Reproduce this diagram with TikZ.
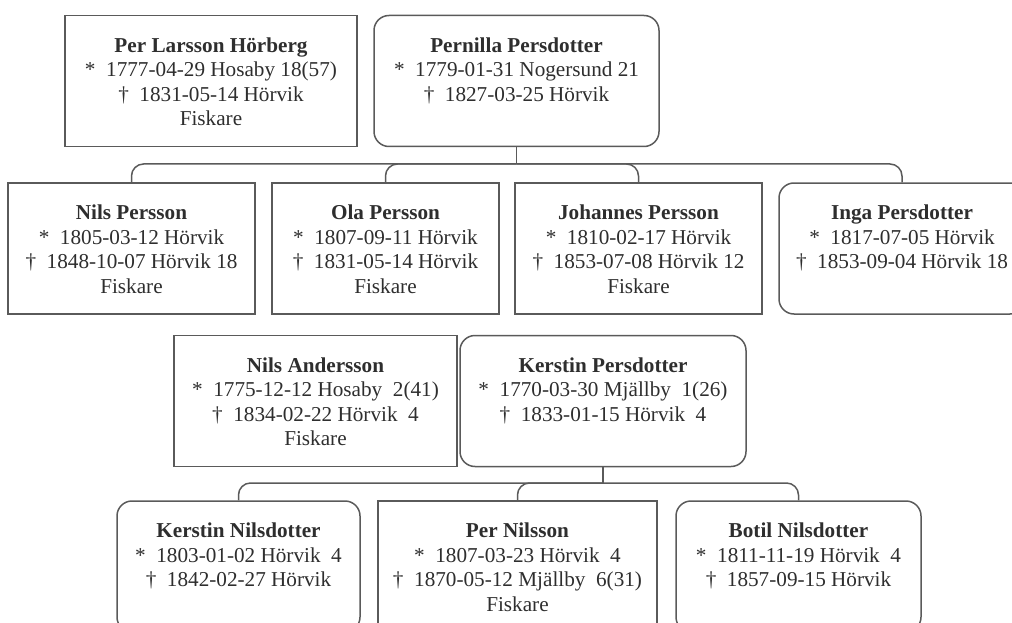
\documentclass[tikz,border=0pt]{standalone}
\usepackage{fontspec}
\setmainfont{Liberation Serif}
\definecolor{linjegra}{HTML}{5A5A5A}
\definecolor{textgra}{HTML}{2E2E2E}
\newcommand{\fodd}{*\ \ }
\newcommand{\dod}{†\ \ }
\newcommand{\persontext}[4]{\rule{0pt}{23pt}\textbf{#1}\\\strut#2\\\strut#3\\\strut#4}
\tikzset{
	person/.style={draw=linjegra,line width=1.5pt,text=textgra,inner sep=0pt,
		minimum height=131pt,align=center,font=\fontsize{21.2}{24.5}\selectfont},
	kvinna/.style={person,rounded corners=15pt},
	linje/.style={draw=linjegra,line width=1.5pt},
}
\begin{document}
\begin{tikzpicture}[x=1pt,y=-1pt]
	\clip (0,0) rectangle (1012,623);
	\useasboundingbox (0,0) rectangle (1012,623);
	% foraldrar 1
	\node[person,minimum width=292pt] (per) at (211,81) {\persontext{Per Larsson Hörberg}{\fodd 1777-04-29 Hosaby 18(57)}{\dod 1831-05-14 Hörvik}{Fiskare}};
	\node[kvinna,minimum width=285pt] (pernilla) at (516.5,81) {\persontext{Pernilla Persdotter}{\fodd 1779-01-31 Nogersund 21}{\dod 1827-03-25 Hörvik}{}};
	% barn 1
	\node[person,minimum width=247pt] (nils) at (131.5,248.5) {\persontext{Nils Persson}{\fodd 1805-03-12 Hörvik}{\dod 1848-10-07 Hörvik 18}{Fiskare}};
	\node[person,minimum width=227pt] (ola) at (385.5,248.5) {\persontext{Ola Persson}{\fodd 1807-09-11 Hörvik}{\dod 1831-05-14 Hörvik}{Fiskare}};
	\node[person,minimum width=247pt] (johannes) at (638.5,248.5) {\persontext{Johannes Persson}{\fodd 1810-02-17 Hörvik}{\dod 1853-07-08 Hörvik 12}{Fiskare}};
	\node[kvinna,minimum width=246pt] (inga) at (902,248.5) {\persontext{Inga Persdotter}{\fodd 1817-07-05 Hörvik}{\dod 1853-09-04 Hörvik 18}{}};
	% foraldrar 2
	\node[person,minimum width=283pt] (nilsA) at (315.5,401) {\persontext{Nils Andersson}{\fodd 1775-12-12 Hosaby\ \ 2(41)}{\dod 1834-02-22 Hörvik\ \ 4}{Fiskare}};
	\node[kvinna,minimum width=286pt] (kerstinP) at (603,401) {\persontext{Kerstin Persdotter}{\fodd 1770-03-30 Mjällby\ \ 1(26)}{\dod 1833-01-15 Hörvik\ \ 4}{}};
	% barn 2
	\node[kvinna,minimum width=243pt] (kerstinN) at (238.5,566.5) {\persontext{Kerstin Nilsdotter}{\fodd 1803-01-02 Hörvik\ \ 4}{\dod 1842-02-27 Hörvik}{}};
	\node[person,minimum width=279pt] (perN) at (517.5,566.5) {\persontext{Per Nilsson}{\fodd 1807-03-23 Hörvik\ \ 4}{\dod 1870-05-12 Mjällby\ \ 6(31)}{Fiskare}};
	\node[kvinna,minimum width=245pt] (botil) at (798.5,566.5) {\persontext{Botil Nilsdotter}{\fodd 1811-11-19 Hörvik\ \ 4}{\dod 1857-09-15 Hörvik}{}};
	% linjer
	\coordinate (fam1) at (pernilla.south |- 0,164);
	\coordinate (fam2) at (kerstinP.south |- 0,483);
	\draw[linje] (pernilla.south) -- (fam1);
	\foreach \barn in {nils,ola,johannes,inga}
		\draw[linje,rounded corners=12pt] (fam1) -| (\barn.north);
	\draw[linje] (kerstinP.south) -- (fam2);
	\foreach \barn in {kerstinN,perN,botil}
		\draw[linje,rounded corners=12pt] (fam2) -| (\barn.north);
\end{tikzpicture}
\end{document}
